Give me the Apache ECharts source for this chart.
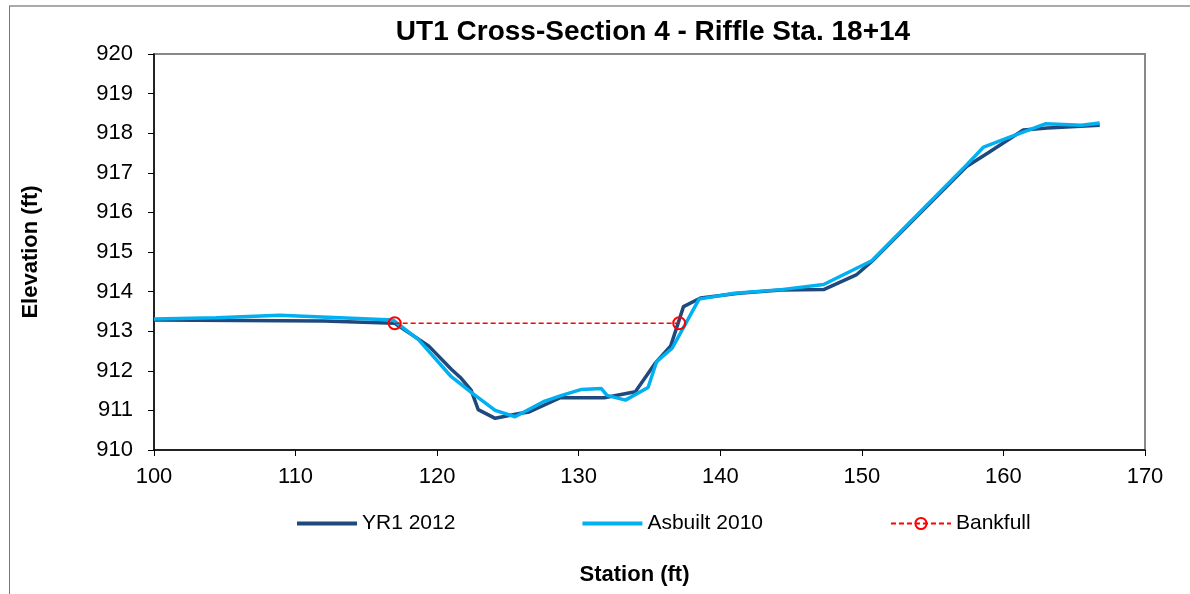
<!DOCTYPE html>
<html>
<head>
<meta charset="utf-8">
<script src="https://cdn.jsdelivr.net/npm/echarts@6/dist/echarts.min.js"></script>
<style>
  html, body { margin: 0; padding: 0; background: #fff; }
  #container { width: 1190px; height: 594px; }
</style>
</head>
<body>
<div id="container"></div>
<script>
// station (ft) / elevation (ft)
var yr1Station = [100, 112, 117.0, 119.4, 121.0, 121.7, 122.4, 122.9, 124.1, 125.8, 126.5, 128.7, 131.8, 134.0, 135.4, 136.5, 137.4, 138.6, 141.3, 144.3, 147.3, 149.6, 150.7, 157.4, 158.9, 161.4, 163.1, 166.8];
var yr1Elev    = [913.28, 913.26, 913.20, 912.63, 912.04, 911.81, 911.51, 911.02, 910.80, 910.92, 910.96, 911.32, 911.32, 911.47, 912.19, 912.63, 913.62, 913.84, 913.96, 914.04, 914.05, 914.42, 914.76, 917.16, 917.50, 918.08, 918.13, 918.20];

var asbuiltStation = [100, 104.4, 108.9, 116.9, 118.7, 121.0, 122.5, 124.1, 125.5, 127.5, 128.8, 130.2, 131.6, 132.0, 133.3, 134.9, 135.5, 136.6, 138.5, 141.0, 144.3, 147.3, 150.7, 157.4, 158.6, 160.3, 163.0, 165.5, 166.8];
var asbuiltElev    = [913.31, 913.34, 913.40, 913.28, 912.78, 911.85, 911.43, 911.00, 910.84, 911.22, 911.38, 911.53, 911.55, 911.38, 911.26, 911.58, 912.23, 912.57, 913.81, 913.96, 914.05, 914.18, 914.78, 917.20, 917.65, 917.88, 918.24, 918.20, 918.26];

var bankfullStation = [117.0, 137.1];
var bankfullElev    = [913.2, 913.2];

function pairs(xs, ys) {
  return xs.map(function (x, i) { return [x, ys[i]]; });
}

var font = 'Liberation Sans';
var lineIcon = 'path://M0,0 L60,0 L60,4 L0,4 Z';
var myChart = echarts.init(document.getElementById('container'));

var option = {
  animation: false,
  backgroundColor: '#fff',
  textStyle: { fontFamily: font },
  title: {
    text: 'UT1 Cross-Section 4 - Riffle Sta. 18+14',
    left: 648,
    top: 13,
    textAlign: 'center',
    textStyle: { fontFamily: font, fontSize: 28, fontWeight: 'bold', color: '#000' }
  },
  legend: {
    left: 292,
    top: 508,
    itemWidth: 60,
    itemHeight: 14,
    itemGap: 127,
    textStyle: { fontFamily: font, fontSize: 21, color: '#000' },
    data: [
      { name: 'YR1 2012', icon: lineIcon },
      { name: 'Asbuilt 2010', icon: lineIcon },
      { name: 'Bankfull' }
    ]
  },
  grid: {
    left: 154,
    right: 45,
    top: 54,
    bottom: 144,
    show: true,
    borderColor: '#888',
    borderWidth: 2
  },
  xAxis: {
    type: 'value',
    min: 100,
    max: 170,
    interval: 10,
    name: 'Station (ft)',
    nameLocation: 'middle',
    nameGap: 114,
    nameTextStyle: { fontFamily: font, fontSize: 22, fontWeight: 'bold', color: '#000', padding: [0, 30, 0, 0] },
    axisLine: { lineStyle: { color: '#000', width: 1.5 } },
    axisTick: { length: 6, lineStyle: { color: '#000' } },
    axisLabel: { fontFamily: font, fontSize: 22, color: '#000', margin: 16 },
    splitLine: { show: false }
  },
  yAxis: {
    type: 'value',
    min: 910,
    max: 920,
    interval: 1,
    name: 'Elevation (ft)',
    nameLocation: 'middle',
    nameGap: 112,
    nameTextStyle: { fontFamily: font, fontSize: 22, fontWeight: 'bold', color: '#000' },
    axisLine: { show: true, lineStyle: { color: '#000', width: 1.5 } },
    axisTick: { show: true, length: 6, lineStyle: { color: '#000' } },
    axisLabel: { fontFamily: font, fontSize: 22, color: '#000', margin: 21 },
    splitLine: { show: false }
  },
  series: [
    {
      name: 'YR1 2012',
      type: 'line',
      data: pairs(yr1Station, yr1Elev),
      showSymbol: false,
      symbol: 'none',
      color: '#1F497D',
      lineStyle: { color: '#1F497D', width: 3.5 },
      z: 2
    },
    {
      name: 'Asbuilt 2010',
      type: 'line',
      data: pairs(asbuiltStation, asbuiltElev),
      showSymbol: false,
      symbol: 'none',
      color: '#00B0F0',
      lineStyle: { color: '#00B0F0', width: 3.5 },
      z: 3
    },
    {
      name: 'Bankfull',
      type: 'line',
      data: pairs(bankfullStation, bankfullElev),
      symbol: 'circle',
      symbolSize: 12,
      color: '#FF0000',
      itemStyle: { color: 'rgba(255,255,255,0)', borderColor: '#FF0000', borderWidth: 2 },
      lineStyle: { color: '#FF0000', width: 1.5, type: [5, 3] },
      z: 4
    }
  ],
  graphic: [
    { type: 'line', shape: { x1: 9, y1: 6, x2: 1190, y2: 6 }, style: { stroke: '#aaa', lineWidth: 2 } },
    { type: 'line', shape: { x1: 9.5, y1: 6, x2: 9.5, y2: 594 }, style: { stroke: '#777', lineWidth: 1 } }
  ]
};

myChart.setOption(option);
</script>
</body>
</html>
